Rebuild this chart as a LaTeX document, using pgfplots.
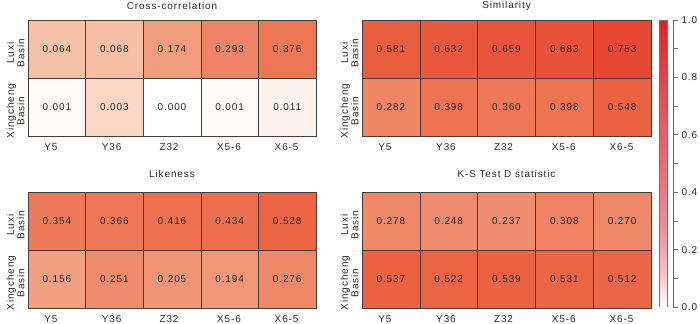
\documentclass[border=0pt]{standalone}
\usepackage{pgfplots}
\pgfplotsset{compat=1.18}
\usepackage{pgfplotstable}
\usepackage{fontspec}
\setmainfont[LetterSpace=9]{Liberation Sans}

\definecolor{txt}{RGB}{40,40,40}
\definecolor{frame}{RGB}{70,60,58}

% x: 0=Y5 1=Y36 2=Z32 3=X5-6 4=X6-5 ; y: 0=Xingcheng, 1=Luxi
\pgfplotstableread{
x y shade label
0 0 0.004 0.001
1 0 0.036 0.003
2 0 0.000 0.000
3 0 0.004 0.001
4 0 0.011 0.011
0 1 0.064 0.064
1 1 0.068 0.068
2 1 0.174 0.174
3 1 0.293 0.293
4 1 0.376 0.376
}\crosscorr
\pgfplotstableread{
x y shade label
0 0 0.282 0.282
1 0 0.398 0.398
2 0 0.360 0.360
3 0 0.398 0.398
4 0 0.548 0.548
0 1 0.581 0.581
1 1 0.632 0.632
2 1 0.659 0.659
3 1 0.683 0.683
4 1 0.753 0.753
}\similarity
\pgfplotstableread{
x y shade label
0 0 0.156 0.156
1 0 0.251 0.251
2 0 0.205 0.205
3 0 0.194 0.194
4 0 0.276 0.276
0 1 0.354 0.354
1 1 0.366 0.366
2 1 0.416 0.416
3 1 0.434 0.434
4 1 0.528 0.528
}\likeness
\pgfplotstableread{
x y shade label
0 0 0.537 0.537
1 0 0.522 0.522
2 0 0.539 0.539
3 0 0.531 0.531
4 0 0.512 0.512
0 1 0.278 0.278
1 1 0.248 0.248
2 1 0.237 0.237
3 1 0.308 0.308
4 1 0.270 0.270
}\kstest

\pgfplotsset{
  heat/.style={
    width=288bp, height=116bp, scale only axis,
    anchor=south west, y dir=normal,
    xmin=-0.5, xmax=4.5, ymin=-0.5, ymax=1.5,
    enlargelimits=false, clip=false,
    colormap={cells}{
      rgb255=(255,255,255) rgb255=(248,199,175) rgb255=(244,177,147)
      rgb255=(242,161,130) rgb255=(240,150,118) rgb255=(240,140,110)
      rgb255=(239,131,101) rgb255=(238,122,90)  rgb255=(237,115,81)
      rgb255=(236,109,76)  rgb255=(235,103,71)  rgb255=(235,98,66)
      rgb255=(234,92,63)   rgb255=(233,86,59)   rgb255=(233,79,54)
      rgb255=(232,72,50)   rgb255=(231,66,47)   rgb255=(230,59,44)
      rgb255=(230,53,41)   rgb255=(229,46,38)   rgb255=(228,40,35)},
    point meta min=0, point meta max=1,
    xtick={0,...,4},
    xticklabels={Y5,Y36,Z32,X5-6,X6-5},
    ytick={0,1},
    yticklabels={{Xingcheng\\Basin},{Luxi\\Basin}},
    major tick length=0pt,
    axis line style={frame, line width=0.6bp},
    tick label style={font=\fontsize{10}{11}\selectfont, text=txt},
    xticklabel style={anchor=west, xshift=-16bp, yshift=-11bp},
    yticklabel style={rotate=90, anchor=south, align=center, xshift=-4bp,
      font=\fontsize{10}{10.5}\selectfont},
    title style={at={(0.5,1)}, anchor=center, font=\fontsize{10}{11}\selectfont, text=txt},
  },
  cells/.style={scatter, only marks, mark=square*, mark size=28.9bp,
    point meta=explicit,
    scatter/use mapped color={draw=frame, fill=mapped color},
    every mark/.append style={line width=0.6bp}},
  vals/.style={draw=none, mark=none, point meta=explicit,
    nodes near coords={\pgfmathprintnumber[fixed, fixed zerofill, precision=3,
      assume math mode=true]{\pgfplotspointmeta}},
    nodes near coords align=center,
    every node near coord/.append style={font=\fontsize{10}{11}\selectfont, text=txt}},
}

\begin{document}
\begin{tikzpicture}
\useasboundingbox (0,0) rectangle (700bp,324bp);

\begin{axis}[heat, at={(28bp,188bp)}, title={Cross-correlation}, title style={yshift=8bp}]
\addplot[cells] table[x=x, y=y, meta=shade] {\crosscorr};
\addplot[vals] table[x=x, y=y, meta=label] {\crosscorr};
\end{axis}

\begin{axis}[heat, width=289bp, at={(362bp,188bp)}, title={Similarity}, title style={yshift=8bp}]
\addplot[cells] table[x=x, y=y, meta=shade] {\similarity};
\addplot[vals] table[x=x, y=y, meta=label] {\similarity};
\end{axis}

\begin{axis}[heat, at={(28bp,16bp)}, title={Likeness}, title style={yshift=12bp}]
\addplot[cells] table[x=x, y=y, meta=shade] {\likeness};
\addplot[vals] table[x=x, y=y, meta=label] {\likeness};
\end{axis}

\begin{axis}[heat, width=289bp, at={(362bp,16bp)}, title={K-S Test D statistic}, title style={yshift=12bp}]
\addplot[cells] table[x=x, y=y, meta=shade] {\kstest};
\addplot[vals] table[x=x, y=y, meta=label] {\kstest};
\end{axis}

% colour bar
\begin{axis}[
  at={(659bp,17bp)}, anchor=south west, y dir=normal,
  width=14bp, height=287bp, scale only axis,
  xmin=0, xmax=1.75, ymin=0, ymax=1,
  enlargelimits=false,
  axis x line=none, axis y line*=right,
  axis line style={black!60, line width=0.6bp},
  colormap={bar}{
    rgb255=(255,255,255) rgb255=(246,205,210) rgb255=(243,172,178)
    rgb255=(240,142,150) rgb255=(238,126,134) rgb255=(237,112,120)
    rgb255=(235,100,110) rgb255=(234,90,100)  rgb255=(232,76,86)
    rgb255=(230,62,72)   rgb255=(228,46,57)   rgb255=(226,30,42)},
  point meta min=0, point meta max=1,
  ytick={0,0.2,...,1}, minor ytick={0.1,0.3,...,0.9},
  tick align=outside, major tick length=5bp, minor tick length=5bp,
  tick style={black!60, line width=0.6bp},
  yticklabel style={font=\fontsize{10}{11}\selectfont, text=txt,
    /pgf/number format/fixed, /pgf/number format/fixed zerofill,
    /pgf/number format/precision=1, /pgf/number format/assume math mode=true},
]
\addplot[surf, shader=interp, mesh/cols=2, point meta=y] coordinates {
(0,0) (1,0)
(0,1) (1,1)
};
\draw[black!55, line width=0.6bp] (axis cs:0,0) rectangle (axis cs:1,1);
\end{axis}
\end{tikzpicture}
\end{document}
